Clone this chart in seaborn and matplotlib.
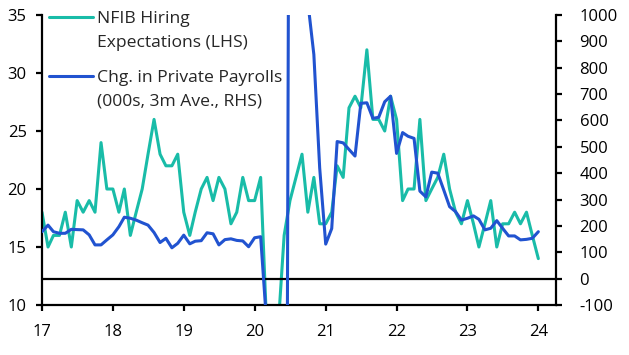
import matplotlib
matplotlib.use("Agg")
import matplotlib.pyplot as plt
import matplotlib.dates as mdates
from matplotlib.lines import Line2D
import seaborn as sns
import pandas as pd

# monthly, Jan 2017 - Jan 2024
nfib_hiring = [
    18, 15, 16, 16, 18, 15, 19, 18, 19, 18, 24, 20,
    20, 18, 20, 16, 18, 20, 23, 26, 23, 22, 22, 23,
    18, 16, 18, 20, 21, 19, 21, 20, 17, 18, 21, 19,
    19, 21, 9, 1, 8, 16, 19, 21, 23, 18, 21, 17,
    17, 18, 22, 21, 27, 28, 27, 32, 26, 26, 25, 28,
    26, 19, 20, 20, 26, 19, 20, 21, 23, 20, 18, 17,
    19, 17, 15, 17, 19, 15, 17, 17, 18, 17, 18, 16,
    14,
]
payrolls_3m = [
    178, 203, 178, 172, 172, 187, 186, 185, 166, 128, 128, 147,
    166, 197, 233, 229, 222, 212, 203, 175, 137, 153, 117, 134,
    165, 132, 142, 144, 174, 170, 128, 148, 151, 145, 143, 121,
    155, 159, -150, -7000, -6000, -4100, 3000, 2300, 1300, 1050, 850, 420,
    131, 190, 520, 515, 490, 465, 665, 667, 608, 612, 671, 692,
    475, 554, 540, 532, 332, 310, 404, 400, 336, 273, 254, 222,
    229, 238, 225, 185, 191, 220, 191, 162, 162, 147, 149, 153,
    178,
]
year_ticks = list(range(2017, 2025))
label_nfib = ["NFIB Hiring", "Expectations (LHS)"]
label_pay = ["Chg. in Private Payrolls", "(000s, 3m Ave., RHS)"]

df = pd.DataFrame({
    "date": pd.date_range("2017-01-01", periods=len(nfib_hiring), freq="MS"),
    "nfib": nfib_hiring,
    "payrolls": payrolls_3m,
})

sns.set_theme(style="white")
plt.rcParams["font.family"] = ["Open Sans", "DejaVu Sans"]
plt.rcParams["axes.unicode_minus"] = False

teal = "#19bca8"
blue = "#2153d0"

fig = plt.figure(figsize=(6.29, 3.55), dpi=100)
ax = fig.add_axes([42 / 629, 1 - 305 / 355, (556 - 42) / 629, (305 - 15) / 355])
ax2 = ax.twinx()

sns.lineplot(data=df, x="date", y="nfib", ax=ax, color=teal, lw=2.2, legend=False)
sns.lineplot(data=df, x="date", y="payrolls", ax=ax2, color=blue, lw=2.2, legend=False)
ax2.axhline(0, color="black", lw=1.6, zorder=1)

ax.set_ylim(10, 35)
ax.set_yticks(range(10, 36, 5))
ax2.set_ylim(-100, 1000)
ax2.set_yticks(range(-100, 1001, 100))
ax.set_xlim(pd.Timestamp("2017-01-01"), pd.Timestamp("2024-04-01"))
ax.set_xticks([pd.Timestamp(f"{y}-01-01") for y in year_ticks])
ax.xaxis.set_major_formatter(mdates.DateFormatter("%y"))

for a in (ax, ax2):
    a.set_xlabel("")
    a.set_ylabel("")
    a.spines["top"].set_visible(False)
    for s in ("left", "right", "bottom"):
        a.spines[s].set_color("black")
        a.spines[s].set_linewidth(1.6)
    a.tick_params(axis="both", direction="out", length=4, width=1.6, color="black",
                  labelsize=12, labelcolor="black")
ax.tick_params(axis="y", left=True, pad=7)
ax.tick_params(axis="x", bottom=True, pad=10)
ax2.tick_params(axis="y", right=True, pad=13)
ax.spines["right"].set_visible(False)
ax2.spines["left"].set_visible(False)
ax2.spines["bottom"].set_visible(False)

# legend: handle beside the first line of each two-line label
blank = Line2D([], [], color="none")
leg_kw = dict(loc="upper left", frameon=False, fontsize=12.6, handlelength=2.5,
              handletextpad=0.25, labelspacing=0.42, borderpad=0, borderaxespad=0)
leg1 = ax2.legend([Line2D([], [], color=teal, lw=2.2), blank], label_nfib,
                  bbox_to_anchor=(0.0136, 1.014), **leg_kw)
ax2.add_artist(leg1)
ax2.legend([Line2D([], [], color=blue, lw=2.2), blank], label_pay,
           bbox_to_anchor=(0.0136, 0.812), **leg_kw)

fig.savefig("out.png", dpi=100, facecolor="white")
